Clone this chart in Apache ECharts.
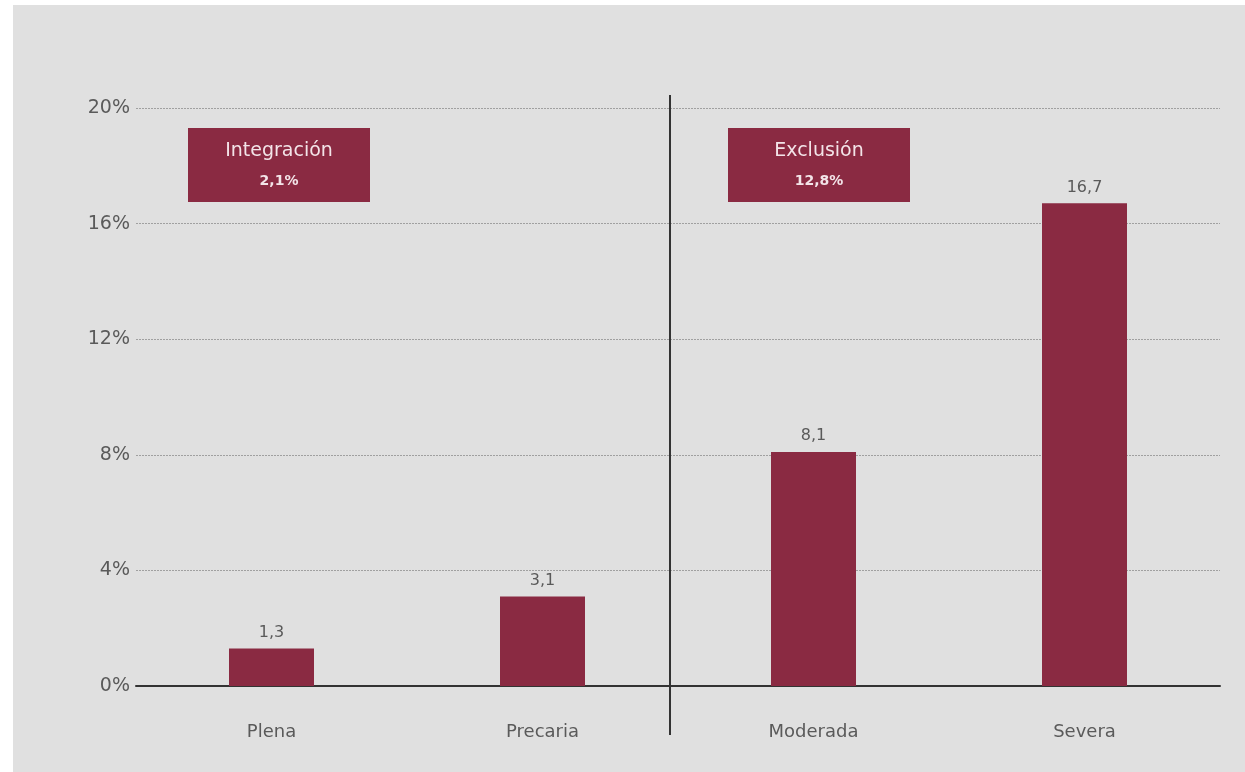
<!DOCTYPE html>
<html>
<head>
<meta charset="utf-8">
<style>
  html, body { margin: 0; padding: 0; background: #ffffff; }
  #chart { width: 1245px; height: 772px; }
</style>
<script src="https://cdn.jsdelivr.net/npm/echarts@6/dist/echarts.min.js"></script>
</head>
<body>
<div id="chart"></div>
<script>
// Categories and values (percent)
const categories = ['Plena', 'Precaria', 'Moderada', 'Severa'];
const values = [1.3, 3.1, 8.1, 16.7];
const yTicks = [0, 4, 8, 12, 16, 20];
// Group summaries shown in the boxes
const groupNames = ['Integración', 'Exclusión'];
const groupValues = [2.1, 12.8];

const BAR = '#8a2a42';
const TEXT = '#5a5a5a';
const FONT = '"DejaVu Sans", Lato, sans-serif';
const fmt = v => String(v).replace('.', ',');

const chart = echarts.init(document.getElementById('chart'));

const boxX = [188, 728];
const boxGraphics = [];
groupNames.forEach((name, i) => {
  boxGraphics.push({
    type: 'rect', shape: { x: boxX[i], y: 128, width: 182, height: 74 },
    style: { fill: BAR }, z: 10
  });
  boxGraphics.push({
    type: 'text', x: boxX[i] + 91, y: 151, z: 11,
    style: { text: name, fill: '#f3e4e8', font: '19px ' + FONT, align: 'center', verticalAlign: 'middle' }
  });
  boxGraphics.push({
    type: 'text', x: boxX[i] + 91, y: 181, z: 11,
    style: { text: fmt(groupValues[i]) + '%', fill: '#f3e4e8', font: 'bold 14px ' + FONT, align: 'center', verticalAlign: 'middle' }
  });
});

chart.setOption({
  animation: false,
  backgroundColor: '#ffffff',
  graphic: [
    { type: 'rect', shape: { x: 13, y: 5, width: 1232, height: 767 }, style: { fill: '#e0e0e0' }, z: -10 },
    { type: 'line', shape: { x1: 670, y1: 95, x2: 670, y2: 735 }, style: { stroke: '#333333', lineWidth: 2 }, z: 5 },
    ...boxGraphics
  ],
  grid: { left: 136, right: 25, top: 108, bottom: 86, containLabel: false },
  xAxis: {
    type: 'category',
    data: categories,
    axisLine: { lineStyle: { color: '#333333', width: 2 } },
    axisTick: { show: false },
    axisLabel: { color: TEXT, fontSize: 18, fontFamily: FONT, margin: 37 }
  },
  yAxis: {
    type: 'value',
    min: 0, max: 20, interval: 4,
    axisLine: { show: false },
    axisTick: { show: false },
    axisLabel: {
      color: TEXT, fontSize: 19, fontFamily: FONT, margin: 6,
      formatter: v => yTicks.includes(v) ? v + '%' : ''
    },
    splitLine: { lineStyle: { color: '#a0a0a0', type: [2, 1], width: 1 } }
  },
  series: [{
    type: 'bar',
    data: values,
    barWidth: 85,
    itemStyle: { color: BAR },
    z: 2,
    label: {
      show: true, position: 'top', distance: 8,
      color: TEXT, fontSize: 16, fontFamily: FONT,
      formatter: p => fmt(p.value)
    }
  }]
});
</script>
</body>
</html>
